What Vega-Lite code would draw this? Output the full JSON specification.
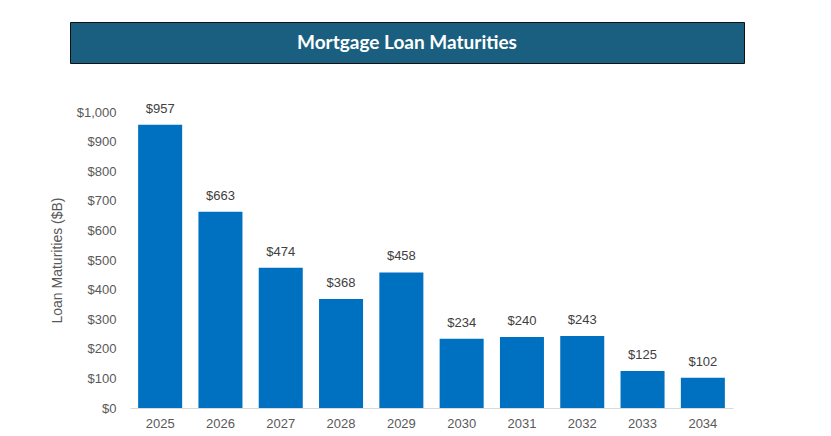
{
  "$schema": "https://vega.github.io/schema/vega-lite/v6.json",
  "background": "white",
  "padding": {"left": 50, "top": 21, "right": 0, "bottom": 0},
  "config": {"view": {"stroke": null}, "font": "Liberation Sans"},
  "spacing": 38,
  "vconcat": [
    {
      "width": 674,
      "height": 41,
      "view": {"fill": "#1A5F80", "stroke": "#111111", "strokeWidth": 1},
      "data": {"values": [{"title": "Mortgage Loan Maturities"}]},
      "mark": {"type": "text", "font": "Lato", "fontWeight": "bold", "fontSize": 19, "color": "white", "baseline": "middle", "align": "center"},
      "encoding": {"text": {"field": "title"}}
    },
    {
      "width": 674,
      "height": 296,
      "data": {"values": [
        {"year": "2025", "value": 957},
        {"year": "2026", "value": 663},
        {"year": "2027", "value": 474},
        {"year": "2028", "value": 368},
        {"year": "2029", "value": 458},
        {"year": "2030", "value": 234},
        {"year": "2031", "value": 240},
        {"year": "2032", "value": 243},
        {"year": "2033", "value": 125},
        {"year": "2034", "value": 102}
      ]},
      "encoding": {
        "x": {"field": "year", "type": "nominal", "sort": null,
          "scale": {"range": [60, 663], "paddingInner": 0.27, "paddingOuter": 0.135},
          "axis": {"title": null, "labelAngle": 0, "labelFontSize": 13, "labelColor": "#595959", "labelPadding": 9, "ticks": false, "domainColor": "#D9D9D9", "domainWidth": 1}},
        "y": {"field": "value", "type": "quantitative",
          "scale": {"domain": [0, 1000]},
          "axis": {"title": "Loan Maturities ($B)", "offset": -60, "titleFontSize": 14, "titleFontWeight": "normal", "titleColor": "#595959", "titlePadding": 12,
            "format": "$,.0f", "values": [0,100,200,300,400,500,600,700,800,900,1000], "labelFontSize": 13, "labelColor": "#595959", "labelPadding": 14, "ticks": false, "domain": false, "grid": false}}
      },
      "layer": [
        {"mark": {"type": "bar", "color": "#0070C0"}},
        {"mark": {"type": "text", "baseline": "bottom", "dy": -9, "fontSize": 13, "color": "#404040"},
          "encoding": {"text": {"field": "value", "type": "quantitative", "format": "$,.0f"}}}
      ]
    }
  ]
}
